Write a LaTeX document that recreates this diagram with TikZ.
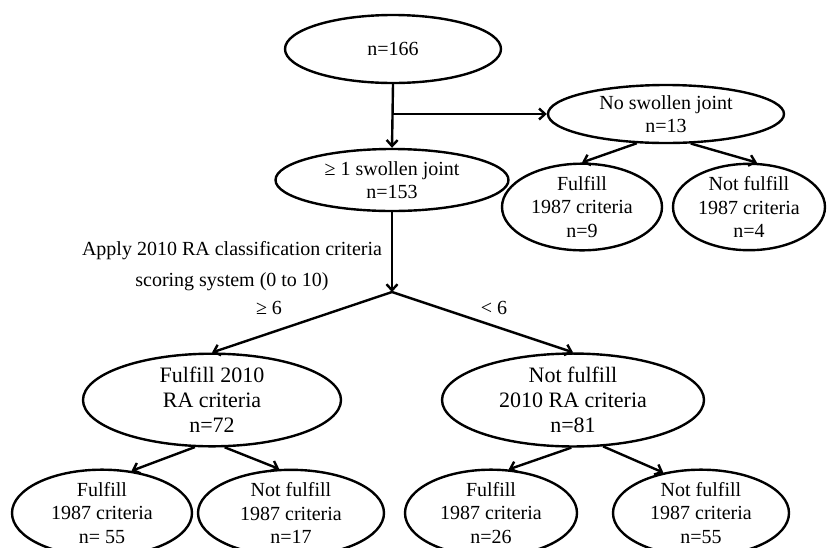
\documentclass[tikz,border=0pt]{standalone}
\usepackage{fontspec}
\setmainfont{Liberation Serif}
\usetikzlibrary{shapes.geometric,arrows.meta}

\tikzset{
  caja/.style={ellipse, draw, line width=2.4pt, inner sep=0pt, align=center,
    font=\fontsize{20}{23.5}\selectfont},
  flecha/.style={line width=2.4pt, -{Straight Barb[length=6pt,width=11pt]}},
  etiqueta/.style={align=center, font=\fontsize{20}{31}\selectfont},
}

\begin{document}
\begin{tikzpicture}[x=1pt, y=-1pt]
    \useasboundingbox (0,0) rectangle (827,547);

    % Nodos superiores
    \node[caja, minimum width=216pt, minimum height=68pt] (total) at (393,49) {n=166};
    \node[caja, minimum width=233pt, minimum height=62pt] (hinchada) at (392,180)
      {≥ 1 swollen joint\\n=153};
    \node[caja, minimum width=236pt, minimum height=58pt] (ninguna) at (666,114)
      {No swollen joint\\n=13};
    \node[caja, minimum width=160pt, minimum height=66pt] (ncumple) at (582,207)
      {Fulfill\\1987 criteria\\n=9};
    \node[caja, minimum width=152pt, minimum height=70pt] (nnocumple) at (749,207)
      {Not fulfill\\1987 criteria\\n=4};

    % Nodos de los criterios 2010
    \node[caja, minimum width=258pt, minimum height=86pt,
      font=\fontsize{22}{25}\selectfont] (cumple) at (212,400)
      {Fulfill 2010\\RA criteria\\n=72};
    \node[caja, minimum width=262pt, minimum height=84pt,
      font=\fontsize{22}{25}\selectfont] (nocumple) at (573,400)
      {Not fulfill\\2010 RA criteria\\n=81};

    % Nodos inferiores
    \node[caja, minimum width=180pt, minimum height=70pt] (ccumple) at (102,513)
      {Fulfill\\1987 criteria\\n= 55};
    \node[caja, minimum width=186pt, minimum height=70pt] (cnocumple) at (291,513)
      {Not fulfill\\1987 criteria\\n=17};
    \node[caja, minimum width=172pt, minimum height=70pt] (ncncumple) at (491,513)
      {Fulfill\\1987 criteria\\n=26};
    \node[caja, minimum width=176pt, minimum height=70pt] (ncnnocumple) at (701,513)
      {Not fulfill\\1987 criteria\\n=55};

    % Puntos de ramificación
    \coordinate (rama) at (393,114);
    \coordinate (cruce) at (392,292);

    % Flechas
    \draw[flecha] (total.south) -- (hinchada.north);
    \draw[flecha] (rama) -- (ninguna.west);
    \draw[flecha] (ninguna.225) -- (ncumple.north);
    \draw[flecha] (ninguna.310) -- ([xshift=8pt]nnocumple.north);
    \draw[flecha] (hinchada.south) -- (cruce);
    \draw[flecha] (cruce) -- (cumple.north);
    \draw[flecha] (cruce) -- (nocumple.north);
    \draw[flecha] (cumple.250) -- (ccumple.55);
    \draw[flecha] (cumple.285) -- (cnocumple.105);
    \draw[flecha] (nocumple.268) -- (ncncumple.68);
    \draw[flecha] (nocumple.303) -- (ncnnocumple.133);

    % Etiquetas
    \node[etiqueta] (regla) at (232,266)
      {Apply 2010 RA classification criteria\\scoring system (0 to 10)};
    \node[etiqueta] (mayor) at (269,308) {≥ 6};
    \node[etiqueta] (menor) at (494,308) {< 6};

\end{tikzpicture}
\end{document}
